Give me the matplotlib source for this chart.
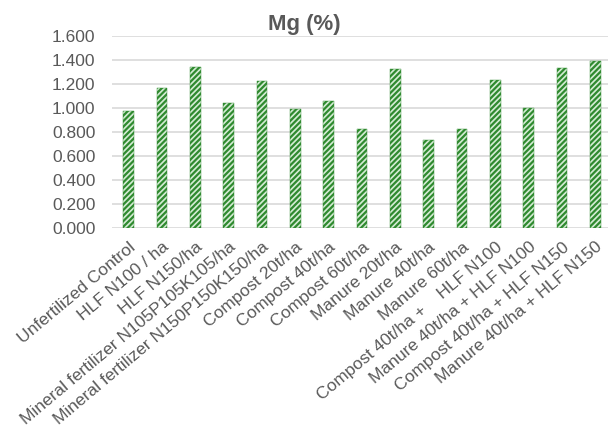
import numpy as np
import matplotlib
matplotlib.use('Agg')
import matplotlib.pyplot as plt
from matplotlib.ticker import FormatStrFormatter

# data
treatments = ['Unfertilized Control', 'HLF N100 / ha', 'HLF N150/ha',
              'Mineral fertilizer N105P105K105/ha', 'Mineral fertilizer N150P150K150/ha',
              'Compost 20t/ha', 'Compost 40t/ha', 'Compost 60t/ha',
              'Manure 20t/ha', 'Manure 40t/ha', 'Manure 60t/ha',
              'Compost 40t/ha +    HLF N100', 'Manure 40t/ha + HLF N100',
              'Compost 40t/ha + HLF N150', 'Manure 40t/ha + HLF N150']
mg_pct = [0.978, 1.167, 1.338, 1.042, 1.225, 0.994, 1.063, 0.825,
          1.325, 0.738, 0.825, 1.233, 1.003, 1.333, 1.388]

plt.rcParams['font.family'] = ['Liberation Sans', 'DejaVu Sans']
plt.rcParams['hatch.linewidth'] = 1.6
grey = '#595959'

fig = plt.figure(figsize=(6.08, 4.32), dpi=100)
ax = fig.add_axes([112/608, 1-228.3/432, 500/608, (228.3-36)/432])

x = np.arange(len(treatments))
ax.bar(x, mg_pct, width=0.32, color='#d4ecd4', edgecolor='#2f8a2f',
       hatch='//////', linewidth=0.3, zorder=3)

ax.set_xlim(-0.5, len(treatments)-0.5)
ax.set_ylim(0, 1.6)
ax.set_yticks(np.arange(0, 1.61, 0.2))
ax.yaxis.set_major_formatter(FormatStrFormatter('%.3f'))
ax.grid(axis='y', color='#d9d9d9', linewidth=1.2, zorder=0)
for s in ax.spines.values():
    s.set_visible(False)

ax.tick_params(axis='both', length=0, labelsize=12.5, colors=grey)
ax.tick_params(axis='y', pad=12)
ax.set_xticks(x)
ax.set_xticklabels(treatments, rotation=40, ha='right', va='top',
                   rotation_mode='anchor')
ax.tick_params(axis='x', pad=8)

fig.text(0.5, 1-30/432, 'Mg (%)', ha='center', va='baseline',
         fontsize=16, fontweight='bold', color=grey)

fig.savefig('out.png', dpi=100)
